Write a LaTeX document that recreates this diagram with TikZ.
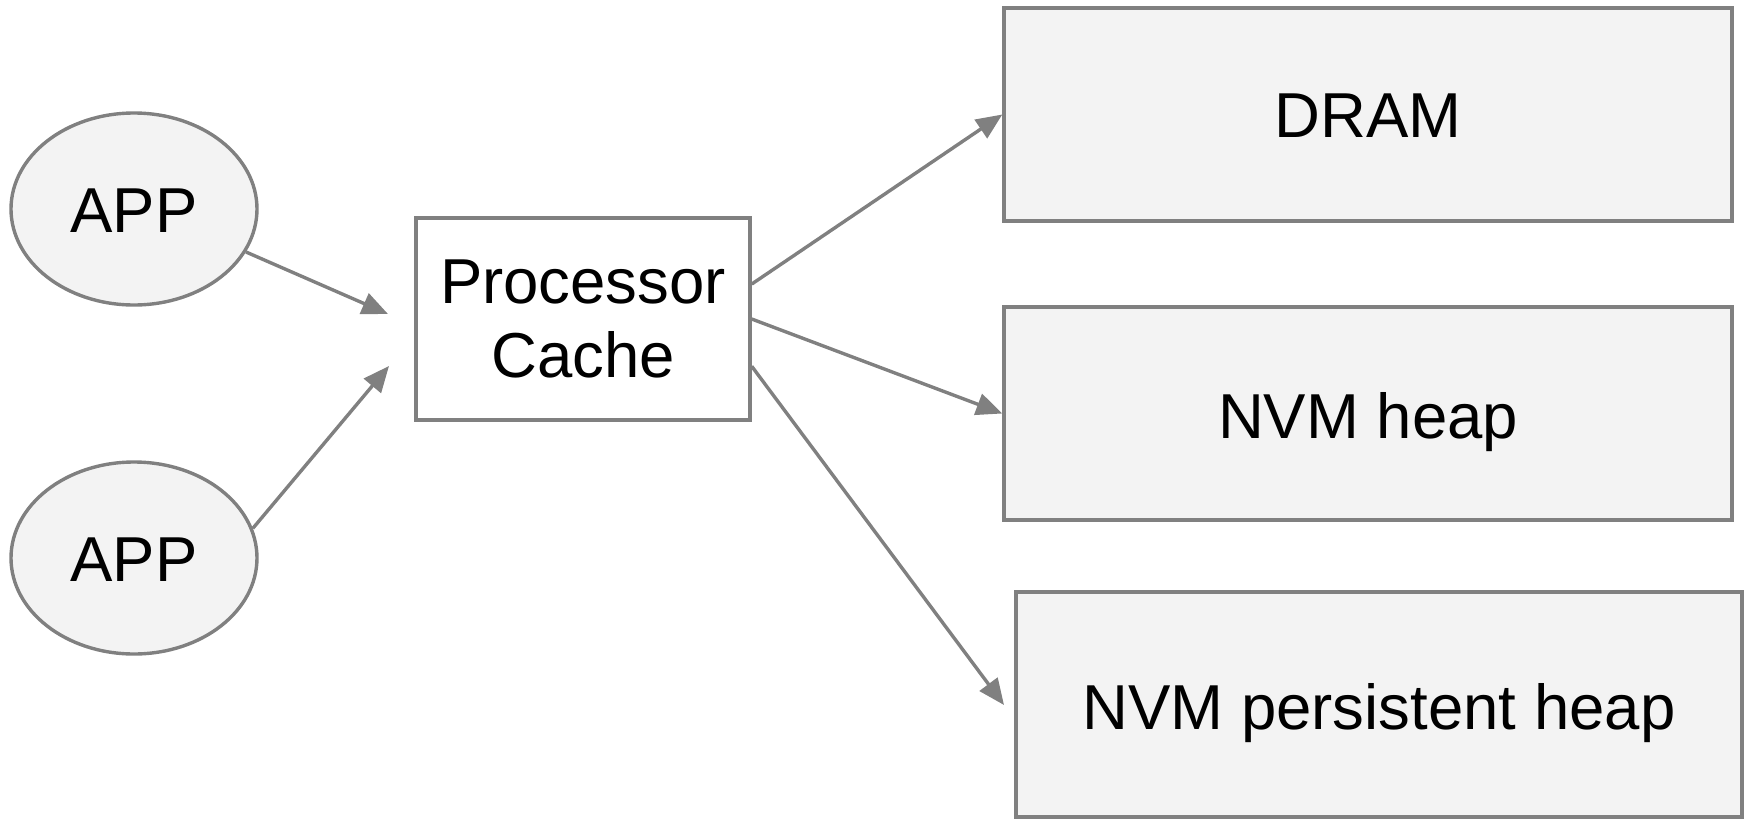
\documentclass[tikz,border=0pt]{standalone}
\usepackage{fontspec}
\setmainfont{Liberation Sans}
\usetikzlibrary{shapes.geometric,arrows.meta,calc}
\definecolor{edgegray}{HTML}{808080}
\definecolor{boxfill}{HTML}{F3F3F3}
\newcommand{\lowered}[1]{\raisebox{-1.5pt}{#1}}
\begin{document}
\begin{tikzpicture}[x=0.5pt,y=-0.5pt,
  lbl/.style={font=\fontsize{31.75pt}{37pt}\selectfont, text=black, align=center, inner sep=0pt, text depth=0pt},
  appnode/.style={lbl, ellipse, draw=edgegray, line width=1.7pt, fill=boxfill, minimum width=123pt, minimum height=96pt},
  procbox/.style={lbl, rectangle, draw=edgegray, line width=1.7pt, fill=white, minimum width=167pt, minimum height=101pt},
  membox/.style={lbl, rectangle, draw=edgegray, line width=1.7pt, fill=boxfill, minimum width=364pt, minimum height=106.5pt},
  conn/.style={draw=edgegray, line width=1.7pt, -{Triangle[length=13pt,width=11pt]}}]
\useasboundingbox (0,0) rectangle (1748,819);
\node[appnode] (app1) at (134,209) {\raisebox{-2pt}{APP}};
\node[appnode] (app2) at (134,558) {\raisebox{-2pt}{APP}};
\node[procbox] (proc) at (583,319) {Processor\\Cache};
\node[membox] (dram) at (1368,114.5) {\lowered{DRAM}};
\node[membox] (nvm) at (1368,413.5) {\lowered{NVM heap}};
\node[membox, minimum width=363pt, minimum height=112.5pt] (pers) at (1379,704.5) {\lowered{NVM persistent heap}};
\coordinate (in1) at (388,314);
\coordinate (in2) at (389,366);
\coordinate (in3) at (1004,705);
\draw[conn] (app1.-21) -- (in1);
\draw[conn] (app2.14) -- (in2);
\draw[conn] ($(proc.north east)!0.33!(proc.south east)$) -- (dram.west);
\draw[conn] ($(proc.north east)!0.5!(proc.south east)$) -- (nvm.west);
\draw[conn] ($(proc.north east)!0.73!(proc.south east)$) -- (in3);
\end{tikzpicture}
\end{document}
